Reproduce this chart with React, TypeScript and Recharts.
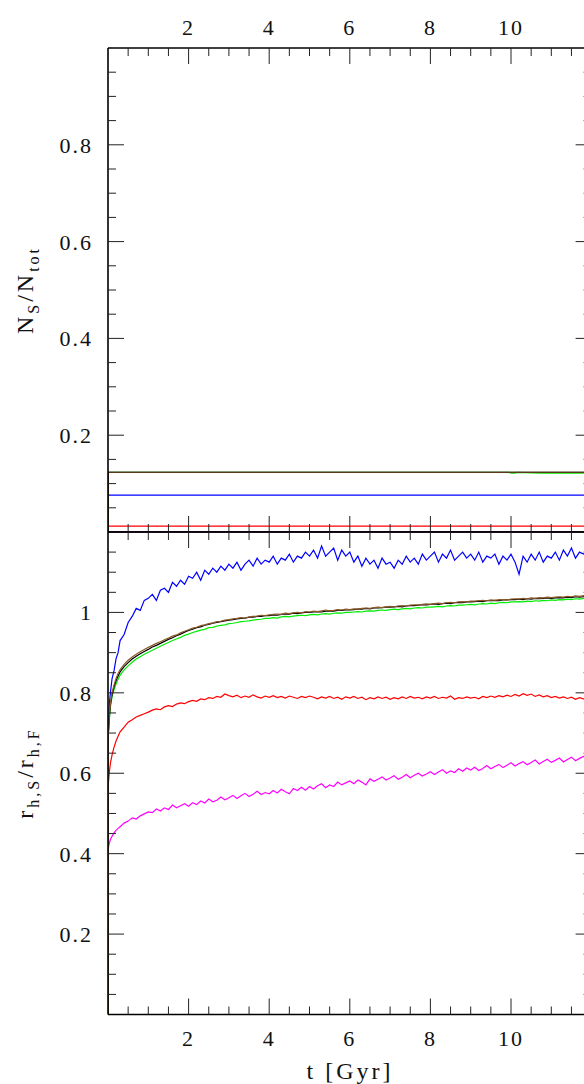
import React from 'react';
import { LineChart, Line, XAxis, YAxis } from 'recharts';

// time grid (Gyr) shared by the r_h panel series
const T = [
  0, 0.01, 0.03, 0.06, 0.1, 0.15, 0.2, 0.25, 0.3,
  0.4, 0.5, 0.6, 0.7, 0.8, 0.9, 1.0,
  1.1, 1.2, 1.3, 1.4, 1.5, 1.6, 1.7, 1.8, 1.9, 2.0,
  2.1, 2.2, 2.3, 2.4, 2.5, 2.6, 2.7, 2.8, 2.9, 3.0,
  3.1, 3.2, 3.3, 3.4, 3.5, 3.6, 3.7, 3.8, 3.9, 4.0,
  4.1, 4.2, 4.3, 4.4, 4.5, 4.6, 4.7, 4.8, 4.9, 5.0,
  5.1, 5.2, 5.3, 5.4, 5.5, 5.6, 5.7, 5.8, 5.9, 6.0,
  6.1, 6.2, 6.3, 6.4, 6.5, 6.6, 6.7, 6.8, 6.9, 7.0,
  7.1, 7.2, 7.3, 7.4, 7.5, 7.6, 7.7, 7.8, 7.9, 8.0,
  8.1, 8.2, 8.3, 8.4, 8.5, 8.6, 8.7, 8.8, 8.9, 9.0,
  9.1, 9.2, 9.3, 9.4, 9.5, 9.6, 9.7, 9.8, 9.9, 10.0,
  10.1, 10.2, 10.3, 10.4, 10.5, 10.6, 10.7, 10.8, 10.9, 11.0,
  11.1, 11.2, 11.3, 11.4, 11.5, 11.6, 11.7, 11.8, 11.9, 12.0,
];

const RH_BLUE = [
  0, 0.72, 0.77, 0.8, 0.835, 0.855, 0.885, 0.9, 0.93,
  0.945, 0.975, 0.99, 1.01, 1.005, 1.03, 1.035,
  1.045, 1.03, 1.055, 1.06, 1.05, 1.075, 1.065, 1.08, 1.07, 1.09,
  1.085, 1.1, 1.08, 1.105, 1.095, 1.11, 1.1, 1.115, 1.105, 1.12,
  1.11, 1.125, 1.105, 1.12, 1.13, 1.115, 1.135, 1.12, 1.13, 1.125,
  1.14, 1.12, 1.135, 1.13, 1.145, 1.125, 1.14, 1.135, 1.15, 1.14,
  1.155, 1.135, 1.165, 1.14, 1.15, 1.16, 1.13, 1.155, 1.14, 1.15,
  1.125, 1.14, 1.115, 1.135, 1.12, 1.13, 1.11, 1.135, 1.12, 1.125,
  1.11, 1.13, 1.12, 1.14, 1.125, 1.135, 1.12, 1.145, 1.13, 1.14,
  1.15, 1.125, 1.145, 1.135, 1.155, 1.13, 1.14, 1.15, 1.135, 1.145,
  1.13, 1.15, 1.125, 1.14, 1.135, 1.145, 1.12, 1.14, 1.13, 1.145,
  1.125, 1.095, 1.14, 1.125, 1.145, 1.13, 1.15, 1.125, 1.14, 1.135,
  1.15, 1.13, 1.155, 1.14, 1.16, 1.135, 1.15, 1.145, 1.155, 1.14,
];

const RH_BLACK = [
  0, 0.7, 0.735, 0.77, 0.795, 0.815, 0.83, 0.842, 0.852,
  0.865, 0.875, 0.884, 0.891, 0.897, 0.903, 0.908,
  0.914, 0.918, 0.923, 0.928, 0.933, 0.937, 0.942, 0.946, 0.951, 0.955,
  0.958, 0.962, 0.964, 0.968, 0.97, 0.973, 0.975, 0.977, 0.979, 0.981,
  0.982, 0.984, 0.985, 0.986, 0.988, 0.988, 0.99, 0.99, 0.992, 0.992,
  0.994, 0.993, 0.995, 0.996, 0.996, 0.998, 0.997, 0.999, 1.0, 1.0,
  1.001, 1.002, 1.001, 1.003, 1.004, 1.003, 1.005, 1.005, 1.006, 1.006,
  1.007, 1.008, 1.008, 1.01, 1.009, 1.011, 1.011, 1.012, 1.013, 1.013,
  1.014, 1.015, 1.014, 1.016, 1.017, 1.017, 1.018, 1.019, 1.019, 1.02,
  1.021, 1.02, 1.022, 1.023, 1.022, 1.024, 1.025, 1.024, 1.026, 1.026,
  1.027, 1.028, 1.027, 1.029, 1.029, 1.03, 1.029, 1.031, 1.031, 1.032,
  1.032, 1.033, 1.032, 1.034, 1.033, 1.035, 1.034, 1.035, 1.036, 1.035,
  1.036, 1.037, 1.036, 1.038, 1.037, 1.039, 1.038, 1.039, 1.04, 1.04,
];

const RH_BROWN = [
  0, 0.7, 0.74, 0.775, 0.8, 0.82, 0.836, 0.848, 0.858,
  0.871, 0.881, 0.889, 0.896, 0.902, 0.908, 0.913,
  0.918, 0.923, 0.927, 0.932, 0.936, 0.941, 0.944, 0.949, 0.953, 0.957,
  0.961, 0.963, 0.967, 0.969, 0.972, 0.974, 0.977, 0.978, 0.981, 0.982,
  0.984, 0.985, 0.987, 0.986, 0.989, 0.99, 0.991, 0.993, 0.992, 0.994,
  0.995, 0.996, 0.995, 0.998, 0.997, 0.999, 1.0, 0.999, 1.002, 1.001,
  1.003, 1.002, 1.004, 1.006, 1.004, 1.005, 1.007, 1.006, 1.008, 1.007,
  1.009, 1.008, 1.01, 1.011, 1.01, 1.012, 1.013, 1.012, 1.014, 1.015,
  1.014, 1.016, 1.017, 1.016, 1.018, 1.019, 1.018, 1.02, 1.021, 1.02,
  1.022, 1.023, 1.022, 1.024, 1.025, 1.024, 1.026, 1.027, 1.026, 1.028,
  1.028, 1.029, 1.03, 1.029, 1.031, 1.03, 1.032, 1.032, 1.031, 1.033,
  1.034, 1.033, 1.035, 1.034, 1.036, 1.035, 1.037, 1.036, 1.038, 1.037,
  1.038, 1.039, 1.038, 1.04, 1.039, 1.041, 1.04, 1.042, 1.041, 1.042,
];

const RH_GREEN = [
  0, 0.7, 0.73, 0.765, 0.79, 0.808, 0.822, 0.834, 0.844,
  0.857, 0.867, 0.876, 0.884, 0.89, 0.896, 0.901,
  0.906, 0.911, 0.916, 0.921, 0.925, 0.93, 0.934, 0.938, 0.943, 0.946,
  0.95, 0.953, 0.956, 0.958, 0.962, 0.963, 0.966, 0.968, 0.969, 0.972,
  0.973, 0.975, 0.977, 0.978, 0.979, 0.981, 0.982, 0.983, 0.985, 0.985,
  0.987, 0.986, 0.989, 0.99, 0.989, 0.991, 0.992, 0.993, 0.992, 0.994,
  0.995, 0.994, 0.996, 0.997, 0.996, 0.998, 0.999, 0.998, 1.0, 1.0,
  1.001, 1.002, 1.001, 1.003, 1.004, 1.003, 1.005, 1.006, 1.005, 1.007,
  1.008, 1.007, 1.009, 1.01, 1.009, 1.011, 1.012, 1.011, 1.013, 1.013,
  1.014, 1.015, 1.014, 1.016, 1.017, 1.016, 1.018, 1.018, 1.019, 1.02,
  1.019, 1.021, 1.022, 1.021, 1.023, 1.022, 1.024, 1.025, 1.024, 1.026,
  1.026, 1.027, 1.026, 1.028, 1.027, 1.029, 1.028, 1.03, 1.029, 1.031,
  1.03, 1.032, 1.031, 1.033, 1.032, 1.034, 1.033, 1.035, 1.034, 1.036,
];

const RH_RED = [
  0, 0.575, 0.6, 0.625, 0.645, 0.665, 0.68, 0.692, 0.703,
  0.715, 0.727, 0.733, 0.74, 0.744, 0.748, 0.752,
  0.757, 0.76, 0.758, 0.765, 0.768, 0.766, 0.772, 0.775, 0.773, 0.778,
  0.781, 0.779, 0.785, 0.783, 0.788, 0.786, 0.791, 0.789, 0.797, 0.793,
  0.79, 0.794, 0.788, 0.792, 0.789, 0.795, 0.79, 0.787, 0.792, 0.789,
  0.793, 0.788, 0.791, 0.787, 0.792, 0.789, 0.786, 0.791, 0.788, 0.792,
  0.789, 0.785, 0.79, 0.787, 0.791, 0.786, 0.789, 0.784, 0.79, 0.787,
  0.791, 0.786, 0.789, 0.783, 0.788, 0.785, 0.79, 0.786, 0.789, 0.784,
  0.788, 0.785, 0.79, 0.786, 0.791, 0.787, 0.789, 0.785, 0.79, 0.787,
  0.791, 0.786, 0.789, 0.787, 0.792, 0.784, 0.788, 0.786, 0.79, 0.787,
  0.789, 0.785, 0.791, 0.788, 0.792, 0.789, 0.793, 0.79, 0.794, 0.791,
  0.796, 0.792, 0.798, 0.794, 0.797, 0.791, 0.795, 0.79, 0.793, 0.788,
  0.791, 0.787, 0.79, 0.786, 0.789, 0.784, 0.788, 0.785, 0.787, 0.786,
];

const RH_MAGENTA = [
  0, 0.415, 0.425, 0.435, 0.443, 0.452, 0.458, 0.463, 0.467,
  0.476, 0.481, 0.489, 0.486, 0.494, 0.499, 0.504,
  0.502, 0.511, 0.506, 0.514, 0.51, 0.521, 0.514, 0.519, 0.524, 0.518,
  0.527, 0.522, 0.531, 0.526, 0.536, 0.529, 0.533, 0.541, 0.534, 0.539,
  0.545, 0.537, 0.544, 0.55, 0.542, 0.548, 0.555, 0.547, 0.552, 0.549,
  0.557, 0.551, 0.56, 0.554, 0.549, 0.562, 0.557, 0.565, 0.558, 0.567,
  0.561, 0.569, 0.574, 0.564, 0.571, 0.567, 0.578, 0.571, 0.576, 0.581,
  0.574, 0.583, 0.578, 0.571, 0.586, 0.58, 0.585, 0.591, 0.583, 0.588,
  0.594, 0.585, 0.59, 0.597, 0.589, 0.595, 0.6, 0.593, 0.598, 0.604,
  0.597, 0.603, 0.609, 0.6, 0.606, 0.602, 0.611, 0.605, 0.613, 0.608,
  0.615, 0.607, 0.612, 0.619, 0.611, 0.617, 0.622, 0.614, 0.62, 0.626,
  0.618, 0.624, 0.629, 0.621, 0.627, 0.633, 0.623, 0.629, 0.635, 0.627,
  0.632, 0.638, 0.628, 0.634, 0.64, 0.631, 0.637, 0.642, 0.634, 0.639,
];

// N_S/N_tot panel: nearly flat lines
const NS_T = [0, 0.01, 12];
const NS_BLUE = [0, 0.076, 0.076];
const NS_BLACK = [0, 0.123, 0.123];
const NS_BROWN = [0, 0.123, 0.123];
const NS_RED = [0, 0.012, 0.012];
const NS_MAGENTA = [0, 0.001, 0.001];
const NS_GREEN_T = [0, 0.01, 9.95, 10.0, 10.1, 10.15, 10.7, 12];
const NS_GREEN = [0, 0.123, 0.123, 0.1215, 0.1215, 0.123, 0.1215, 0.1215];

// ticks
const X_TICKS = [0.5, 1, 1.5, 2, 2.5, 3, 3.5, 4, 4.5, 5, 5.5, 6, 6.5, 7, 7.5, 8, 8.5, 9, 9.5, 10, 10.5, 11, 11.5];
const X_MAJOR = [2, 4, 6, 8, 10];
const NS_TICKS = [0.05, 0.1, 0.15, 0.2, 0.25, 0.3, 0.35, 0.4, 0.45, 0.5, 0.55, 0.6, 0.65, 0.7, 0.75, 0.8, 0.85, 0.9, 0.95];
const NS_MAJOR = [0.2, 0.4, 0.6, 0.8];
const RH_TICKS = [0.05, 0.1, 0.15, 0.2, 0.25, 0.3, 0.35, 0.4, 0.45, 0.5, 0.55, 0.6, 0.65, 0.7, 0.75, 0.8, 0.85, 0.9, 0.95, 1, 1.05, 1.1, 1.15];
const RH_MAJOR = [0.2, 0.4, 0.6, 0.8, 1];

const FONT = '"Liberation Serif", "Times New Roman", serif';
const W = 620;
const LINE_W = 1.2;

const rhData = T.map((t, i) => ({
  t,
  blue: RH_BLUE[i],
  black: RH_BLACK[i],
  brown: RH_BROWN[i],
  green: RH_GREEN[i],
  red: RH_RED[i],
  magenta: RH_MAGENTA[i],
}));

const toPts = (ts: number[], vs: number[]) => ts.map((t, i) => ({ t, v: vs[i] }));

// inward x ticks; dir=+1 draws downward, -1 upward
const xTick = (dir: number, labelDy: number | null) => (props: any) => {
  const { x, y, payload } = props;
  const v = payload.value;
  const major = X_MAJOR.includes(v);
  return (
    <g>
      <line x1={x} y1={y} x2={x} y2={y + dir * (major ? 16 : 8)} stroke="#222" strokeWidth={1} />
      {labelDy !== null && major && (
        <text x={x} y={y + labelDy} textAnchor="middle" fontFamily={FONT} fontSize={22} letterSpacing={2} fill="#111">
          {v}
        </text>
      )}
    </g>
  );
};

const yTick = (majors: number[], dir: number, showLabel: boolean) => (props: any) => {
  const { x, y, payload } = props;
  const v = payload.value;
  const major = majors.includes(v);
  return (
    <g>
      <line x1={x} y1={y} x2={x + dir * (major ? 16 : 8)} y2={y} stroke="#222" strokeWidth={1} />
      {showLabel && major && (
        <text x={x - 15} y={y + 8} textAnchor="end" fontFamily={FONT} fontSize={22} letterSpacing={2} fill="#111">
          {String(v)}
        </text>
      )}
    </g>
  );
};

const axisLine = { stroke: '#000', strokeWidth: 1.6 };

function TopPanel() {
  return (
    <LineChart width={W} height={540} margin={{ top: 47, right: 27.4, bottom: 7, left: 107 }}>
      <XAxis xAxisId="top" orientation="top" type="number" dataKey="t" domain={[0, 12]} allowDataOverflow
        ticks={X_TICKS} interval={0} height={1} tickSize={0} tickMargin={0} tickLine={false}
        axisLine={axisLine} tick={xTick(1, -13)} />
      <XAxis xAxisId="bot" orientation="bottom" type="number" dataKey="t" domain={[0, 12]} allowDataOverflow
        ticks={X_TICKS} interval={0} height={1} tickSize={0} tickMargin={0} tickLine={false}
        axisLine={axisLine} tick={xTick(-1, null)} />
      <YAxis yAxisId="l" orientation="left" type="number" domain={[0, 1]} allowDataOverflow
        ticks={NS_TICKS} interval={0} width={1} tickSize={0} tickMargin={0} tickLine={false}
        axisLine={axisLine} tick={yTick(NS_MAJOR, 1, true)} />
      <YAxis yAxisId="r" orientation="right" type="number" domain={[0, 1]} allowDataOverflow
        ticks={NS_TICKS} interval={0} width={1} tickSize={0} tickMargin={0} tickLine={false}
        axisLine={axisLine} tick={yTick(NS_MAJOR, -1, false)} />
      <Line xAxisId="bot" yAxisId="l" data={toPts(NS_T, NS_MAGENTA)} dataKey="v" stroke="#ff00ff" strokeWidth={LINE_W} dot={false} isAnimationActive={false} />
      <Line xAxisId="bot" yAxisId="l" data={toPts(NS_T, NS_BLUE)} dataKey="v" stroke="#0000ff" strokeWidth={LINE_W} dot={false} isAnimationActive={false} />
      <Line xAxisId="bot" yAxisId="l" data={toPts(NS_T, NS_RED)} dataKey="v" stroke="#ff0000" strokeWidth={LINE_W} dot={false} isAnimationActive={false} />
      <Line xAxisId="bot" yAxisId="l" data={toPts(NS_GREEN_T, NS_GREEN)} dataKey="v" stroke="#00ee00" strokeWidth={LINE_W} dot={false} isAnimationActive={false} />
      <Line xAxisId="bot" yAxisId="l" data={toPts(NS_T, NS_BLACK)} dataKey="v" stroke="#000000" strokeWidth={LINE_W} dot={false} isAnimationActive={false} />
      <Line xAxisId="bot" yAxisId="l" data={toPts(NS_T, NS_BROWN)} dataKey="v" stroke="#5a3a14" strokeWidth={LINE_W} dot={false} isAnimationActive={false} />
    </LineChart>
  );
}

function BottomPanel() {
  return (
    <LineChart width={W} height={1084} data={rhData} margin={{ top: 531, right: 27.4, bottom: 68.5, left: 107 }}>
      <XAxis xAxisId="top" orientation="top" type="number" dataKey="t" domain={[0, 12]} allowDataOverflow
        ticks={X_TICKS} interval={0} height={1} tickSize={0} tickMargin={0} tickLine={false}
        axisLine={axisLine} tick={xTick(1, null)} />
      <XAxis xAxisId="bot" orientation="bottom" type="number" dataKey="t" domain={[0, 12]} allowDataOverflow
        ticks={X_TICKS} interval={0} height={1} tickSize={0} tickMargin={0} tickLine={false}
        axisLine={axisLine} tick={xTick(-1, 31.5)} />
      <YAxis yAxisId="l" orientation="left" type="number" domain={[0, 1.2]} allowDataOverflow
        ticks={RH_TICKS} interval={0} width={1} tickSize={0} tickMargin={0} tickLine={false}
        axisLine={axisLine} tick={yTick(RH_MAJOR, 1, true)} />
      <YAxis yAxisId="r" orientation="right" type="number" domain={[0, 1.2]} allowDataOverflow
        ticks={RH_TICKS} interval={0} width={1} tickSize={0} tickMargin={0} tickLine={false}
        axisLine={axisLine} tick={yTick(RH_MAJOR, -1, false)} />
      <Line xAxisId="bot" yAxisId="l" dataKey="blue" stroke="#0000ff" strokeWidth={LINE_W} dot={false} isAnimationActive={false} />
      <Line xAxisId="bot" yAxisId="l" dataKey="red" stroke="#ff0000" strokeWidth={LINE_W} dot={false} isAnimationActive={false} />
      <Line xAxisId="bot" yAxisId="l" dataKey="magenta" stroke="#ff00ff" strokeWidth={LINE_W} dot={false} isAnimationActive={false} />
      <Line xAxisId="bot" yAxisId="l" dataKey="green" stroke="#00ee00" strokeWidth={LINE_W} dot={false} isAnimationActive={false} />
      <Line xAxisId="bot" yAxisId="l" dataKey="black" stroke="#000000" strokeWidth={LINE_W} dot={false} isAnimationActive={false} />
      <Line xAxisId="bot" yAxisId="l" dataKey="brown" stroke="#8b5a2b" strokeWidth={LINE_W} dot={false} isAnimationActive={false} />
    </LineChart>
  );
}

export default function App() {
  return (
    <div style={{ position: 'absolute', left: 0, top: 0, width: 584, height: 1084, overflow: 'hidden', background: '#fff' }}>
      <div style={{ position: 'absolute', left: 0, top: 0 }}>
        <TopPanel />
      </div>
      <div style={{ position: 'absolute', left: 0, top: 0 }}>
        <BottomPanel />
      </div>
      <svg width={584} height={1084} style={{ position: 'absolute', left: 0, top: 0, pointerEvents: 'none' }}>
        <text transform="translate(33,290) rotate(-90)" textAnchor="middle" fontFamily={FONT} fontSize={24} letterSpacing={3} fill="#111">
          N<tspan fontSize={16} dy={6}>S</tspan>
          <tspan dy={-6}>/N</tspan>
          <tspan fontSize={16} dy={6}>tot</tspan>
        </text>
        <text transform="translate(33,773) rotate(-90)" textAnchor="middle" fontFamily={FONT} fontSize={24} letterSpacing={3} fill="#111">
          r<tspan fontSize={16} dy={6}>h,S</tspan>
          <tspan dy={-6}>/r</tspan>
          <tspan fontSize={16} dy={6}>h,F</tspan>
        </text>
        <text x={350} y={1079} textAnchor="middle" fontFamily={FONT} fontSize={24} letterSpacing={3} fill="#111">
          t [Gyr]
        </text>
      </svg>
    </div>
  );
}
